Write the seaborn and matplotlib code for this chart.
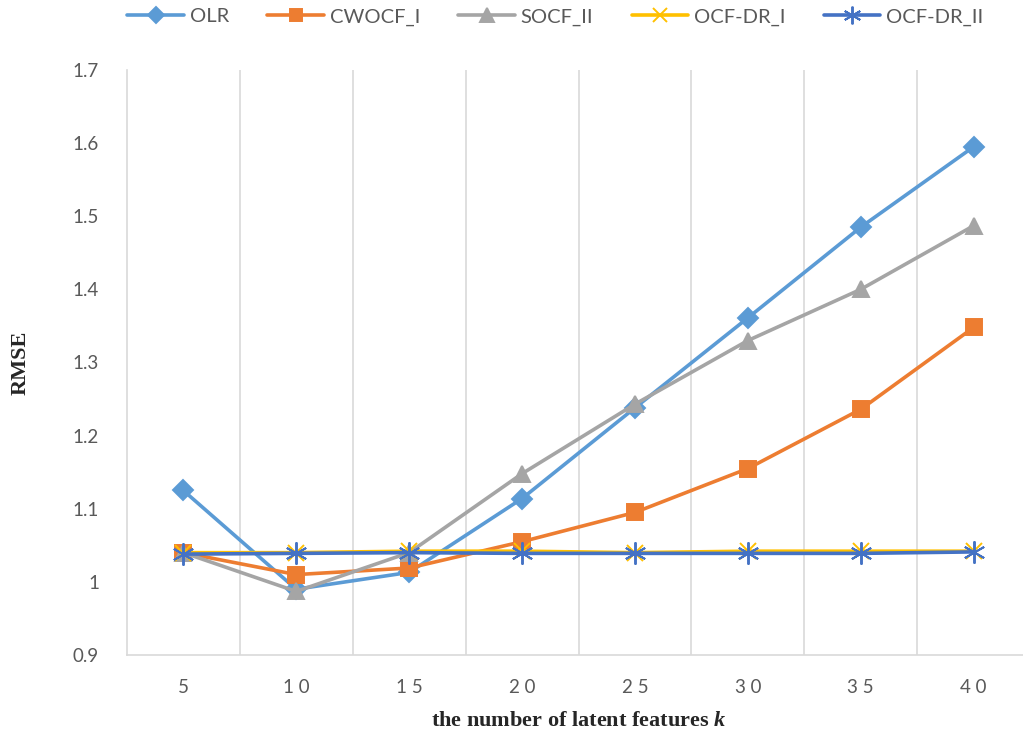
import numpy as np
import pandas as pd
import matplotlib
matplotlib.use("Agg")
import matplotlib.pyplot as plt
import seaborn as sns

# data
k_values = [5, 10, 15, 20, 25, 30, 35, 40]
tick_labels = ["5", "1 0", "1 5", "2 0", "2 5", "3 0", "3 5", "4 0"]
olr = [1.125, 0.990, 1.013, 1.114, 1.238, 1.361, 1.485, 1.595]
cwocf_i = [1.040, 1.010, 1.019, 1.055, 1.095, 1.155, 1.236, 1.348]
socf_ii = [1.040, 0.987, 1.040, 1.148, 1.243, 1.330, 1.400, 1.487]
ocf_dr_i = [1.040, 1.040, 1.042, 1.042, 1.040, 1.042, 1.042, 1.042]
ocf_dr_ii = [1.038, 1.039, 1.040, 1.039, 1.039, 1.039, 1.039, 1.041]

series = {"OLR": olr, "CWOCF_I": cwocf_i, "SOCF_II": socf_ii,
          "OCF-DR_I": ocf_dr_i, "OCF-DR_II": ocf_dr_ii}

colors = {"OLR": "#5B9BD5", "CWOCF_I": "#ED7D31", "SOCF_II": "#A5A5A5",
          "OCF-DR_I": "#FFC000", "OCF-DR_II": "#4472C4"}
markers = {"OLR": "D", "CWOCF_I": "s", "SOCF_II": "^",
           "OCF-DR_I": "x", "OCF-DR_II": (6, 2, 0)}
msizes = {"OLR": 10, "CWOCF_I": 11, "SOCF_II": 12, "OCF-DR_I": 12, "OCF-DR_II": 16}

sns.set_style("white")
plt.rcParams["font.family"] = ["Lato", "DejaVu Sans"]
plt.rcParams["mathtext.fontset"] = "custom"
plt.rcParams["mathtext.it"] = "Liberation Serif:italic:bold"
plt.rcParams["mathtext.rm"] = "Liberation Serif:bold"

fig = plt.figure(figsize=(10.23, 7.36), dpi=100)
ax = fig.add_axes([0.124, 0.110, 0.883, 0.795])

for name, vals in series.items():
    d = pd.DataFrame({"k": k_values, "RMSE": vals})
    sns.lineplot(data=d, x="k", y="RMSE", ax=ax, label=name,
                 color=colors[name], marker=markers[name], linewidth=2.6,
                 markersize=msizes[name], markeredgewidth=1.4,
                 markeredgecolor=colors[name], markerfacecolor=colors[name])

ax.set_xlim(2.5, 42.5)
ax.set_ylim(0.9, 1.7)
ax.set_xticks(k_values)
ax.set_xticklabels(tick_labels)
ax.set_yticks(np.arange(0.9, 1.71, 0.1))
ax.set_yticklabels(["0.9", "1", "1.1", "1.2", "1.3", "1.4", "1.5", "1.6", "1.7"])
ax.tick_params(axis="both", length=0, labelsize=13.5, colors="#595959")
ax.tick_params(axis="x", pad=17)
ax.tick_params(axis="y", pad=20)

# vertical category separators
for xv in np.arange(7.5, 42.6, 5):
    ax.axvline(xv, color="#D9D9D9", linewidth=1.2, zorder=0)
for side in ["top", "right"]:
    ax.spines[side].set_visible(False)
for side in ["left", "bottom"]:
    ax.spines[side].set_color("#D9D9D9")
    ax.spines[side].set_linewidth(1.2)

ax.set_xlabel(r"the number of latent features $k$", fontsize=16,
              fontweight="bold", family="Liberation Serif", labelpad=11)
ax.set_ylabel("RMSE", fontsize=16, fontweight="bold",
              family="Liberation Serif", labelpad=30)

handles, labels = ax.get_legend_handles_labels()
ax.legend_.remove()
fig.legend(handles, labels, loc="center", bbox_to_anchor=(0.543, 0.977),
           ncol=5, frameon=False, fontsize=14.5, handlelength=2.8,
           columnspacing=1.9, handletextpad=0.3, labelcolor="#595959",
           markerscale=0.8)

fig.savefig("out.png", dpi=100)
